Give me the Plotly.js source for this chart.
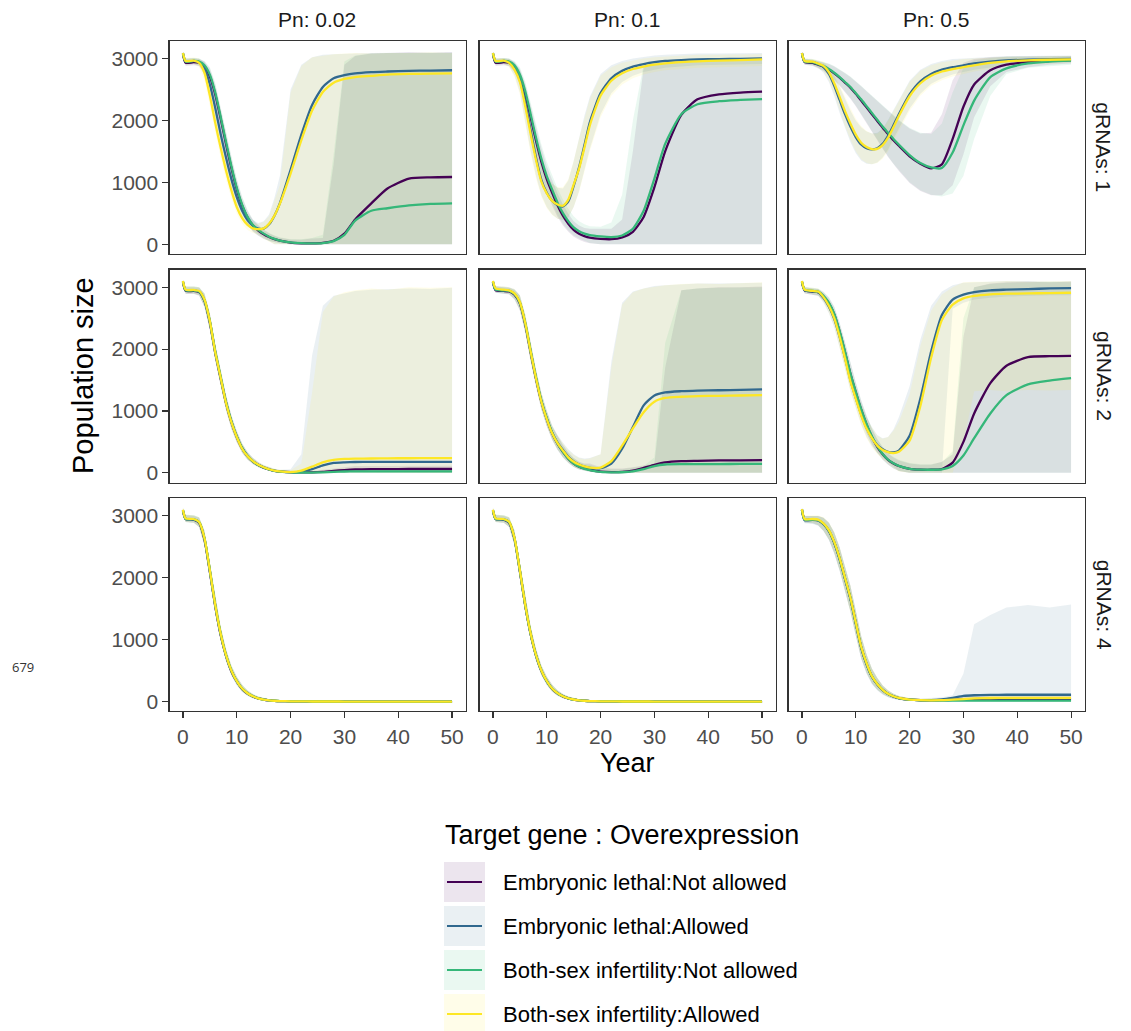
<!DOCTYPE html>
<html><head><meta charset="utf-8">
<script src="https://cdn.plot.ly/plotly-3.0.1.min.js"></script>
<style>html,body{margin:0;padding:0;background:#fff}#chart{width:1131px;height:1031px}</style>
</head><body><div id="chart"></div>
<script>
// ---------- data ----------
const years = [0,0.5,2,3,4,5,6,7,8,9,10,11,12,13,14,15,16,17,18,20,22,24,26,28,30,32,35,38,42,46,50];
const seriesNames = ["Embryonic lethal:Not allowed","Embryonic lethal:Allowed","Both-sex infertility:Not allowed","Both-sex infertility:Allowed"];
const seriesColors = ["#440154","#31688E","#35B779","#FDE725"];
const pnLabels = ["Pn: 0.02","Pn: 0.1","Pn: 0.5"];
const grnaLabels = ["gRNAs: 1","gRNAs: 2","gRNAs: 4"];
const xTicks = [0,10,20,30,40,50];
const yTicks = [0,1000,2000,3000];
const legendTitle = "Target gene : Overexpression";

// gRNAs 1, Pn 0.02
const g1_p002_EN    = [3070,2930,2940,2930,2870,2710,2420,2030,1620,1230,890,620,430,300,220,160,115,80,55,25,14,12,20,55,170,400,660,900,1060,1080,1085];
const g1_p002_EN_lo = [3040,2880,2890,2880,2780,2570,2250,1850,1440,1060,740,490,320,200,135,85,50,28,14,0,0,0,0,0,0,0,0,0,0,0,0];
const g1_p002_EN_hi = [3100,2990,3000,2990,2950,2840,2580,2210,1800,1400,1040,750,540,390,300,230,175,135,105,75,70,90,100,1300,2900,3040,3080,3090,3100,3090,3100];
const g1_p002_EA    = [3090,2950,2960,2940,2840,2580,2200,1780,1400,1050,760,540,390,300,250,250,320,460,660,1200,1770,2250,2540,2680,2730,2760,2780,2790,2800,2805,2810];
const g1_p002_EA_lo = [3060,2900,2910,2880,2730,2420,2030,1620,1250,910,640,440,300,220,170,110,50,0,0,0,0,0,0,0,0,0,0,0,0,0,0];
const g1_p002_EA_hi = [3110,3000,3010,3000,2940,2720,2350,1930,1540,1190,880,650,490,390,340,370,480,750,1100,2500,2900,3020,3060,3070,3080,3080,3090,3090,3100,3090,3100];
const g1_p002_BN    = [3080,2950,2960,2950,2890,2740,2450,2060,1650,1260,910,640,440,310,230,170,120,85,58,28,16,12,18,50,150,380,540,580,625,650,660];
const g1_p002_BN_lo = [3050,2900,2910,2900,2800,2600,2280,1880,1470,1090,760,510,330,210,140,90,55,30,15,0,0,0,0,0,0,0,0,0,0,0,0];
const g1_p002_BN_hi = [3110,3000,3010,3000,2960,2860,2610,2240,1830,1430,1060,770,550,400,310,240,180,140,110,80,80,100,150,1450,2950,3050,3080,3090,3090,3100,3090];
const g1_p002_BA    = [3090,2960,2965,2930,2770,2400,1960,1560,1190,870,600,420,310,255,242,255,330,460,650,1140,1680,2160,2460,2610,2670,2700,2720,2740,2750,2755,2760];
const g1_p002_BA_lo = [3060,2900,2910,2860,2650,2250,1800,1400,1040,740,490,330,230,180,150,100,40,0,0,0,0,0,0,0,0,0,0,0,0,0,0];
const g1_p002_BA_hi = [3110,3010,3020,3000,2890,2560,2130,1730,1350,1010,720,520,400,340,330,360,450,700,950,2450,2880,3020,3050,3070,3080,3090,3080,3090,3090,3100,3090];

// gRNAs 1, Pn 0.1
const g1_p01_EN    = [3070,2930,2940,2930,2860,2700,2420,2050,1670,1330,1050,830,630,460,330,230,170,130,105,85,80,110,200,440,920,1500,2090,2340,2420,2450,2465];
const g1_p01_EN_lo = [3040,2880,2890,2880,2780,2570,2250,1850,1460,1110,840,620,440,300,200,120,70,35,15,0,0,0,0,0,0,0,0,0,0,0,0];
const g1_p01_EN_hi = [3100,2990,3000,2990,2940,2830,2590,2250,1880,1550,1260,1040,820,640,490,370,300,260,250,250,250,400,1500,2850,2940,2960,2970,2990,3000,3000,3010];
const g1_p01_EA    = [3090,2950,2960,2940,2850,2660,2290,1840,1400,1040,830,700,630,610,690,940,1240,1600,1970,2440,2680,2800,2870,2910,2940,2960,2975,2985,2990,2995,3000];
const g1_p01_EA_lo = [3060,2900,2910,2870,2730,2460,2000,1510,1100,790,600,480,410,390,430,600,860,1180,1540,2100,2440,2620,2720,2780,2820,2850,2870,2890,2900,2900,2910];
const g1_p01_EA_hi = [3110,3000,3010,3000,2940,2810,2530,2130,1720,1360,1110,980,910,900,1030,1340,1710,2080,2380,2750,2890,2960,3000,3030,3050,3060,3070,3080,3080,3090,3090];
const g1_p01_BN    = [3080,2950,2960,2950,2890,2740,2470,2100,1720,1380,1100,880,670,500,370,270,210,170,145,125,115,140,250,540,1060,1620,2100,2260,2310,2330,2345];
const g1_p01_BN_lo = [3050,2900,2910,2900,2810,2610,2300,1900,1500,1160,880,660,470,330,220,140,90,50,20,0,0,0,0,0,0,0,0,0,0,0,0];
const g1_p01_BN_hi = [3110,3000,3010,3000,2960,2860,2630,2300,1940,1610,1330,1110,900,720,570,450,370,320,290,280,350,800,2000,2900,2950,2960,2980,2990,2990,3000,3000];
const g1_p01_BA    = [3090,2960,2965,2930,2820,2620,2230,1780,1360,1010,820,700,640,620,720,960,1220,1560,1920,2400,2640,2760,2830,2870,2900,2920,2940,2955,2965,2975,2985];
const g1_p01_BA_lo = [3060,2910,2910,2860,2700,2420,1950,1460,1060,760,580,470,410,400,440,600,840,1150,1500,2050,2400,2580,2680,2740,2780,2810,2830,2850,2860,2870,2880];
const g1_p01_BA_hi = [3110,3010,3010,2990,2920,2780,2480,2080,1680,1330,1100,980,920,920,1050,1350,1700,2050,2350,2720,2860,2930,2970,3000,3020,3030,3050,3060,3060,3070,3070];

// gRNAs 1, Pn 0.5
const g1_p05_EN    = [3080,2940,2930,2900,2870,2820,2760,2690,2610,2530,2430,2320,2210,2100,1990,1880,1780,1680,1590,1420,1300,1225,1290,1700,2220,2580,2810,2900,2940,2960,2975];
const g1_p05_EN_lo = [3050,2900,2880,2840,2800,2730,2650,2560,2460,2350,2230,2100,1960,1820,1680,1540,1410,1290,1180,990,860,790,790,950,1450,2050,2550,2780,2860,2900,2920];
const g1_p05_EN_hi = [3110,2990,2980,2960,2940,2910,2870,2820,2760,2700,2630,2550,2470,2390,2310,2230,2150,2070,2000,1870,1790,1800,2100,2650,2930,2990,3020,3030,3030,3040,3040];
const g1_p05_EA    = [3090,2950,2940,2910,2860,2750,2560,2330,2100,1900,1730,1610,1550,1530,1550,1620,1750,1920,2100,2420,2630,2750,2820,2860,2890,2920,2950,2970,2980,2990,2995];
const g1_p05_EA_lo = [3060,2900,2890,2850,2770,2620,2390,2120,1870,1650,1470,1350,1300,1290,1320,1400,1530,1700,1870,2190,2430,2590,2680,2740,2780,2820,2860,2890,2910,2930,2940];
const g1_p05_EA_hi = [3110,2990,2980,2960,2930,2860,2720,2540,2340,2160,2000,1890,1820,1790,1800,1870,2010,2170,2340,2640,2820,2910,2960,2990,3000,3010,3030,3040,3040,3050,3050];
const g1_p05_BN    = [3080,2950,2940,2910,2880,2830,2770,2700,2620,2540,2440,2340,2230,2120,2010,1900,1800,1700,1610,1440,1310,1240,1230,1480,1920,2320,2700,2840,2920,2950,2965];
const g1_p05_BN_lo = [3050,2910,2890,2850,2810,2740,2660,2570,2470,2360,2240,2110,1970,1830,1690,1550,1420,1300,1190,1000,870,800,770,820,1100,1700,2400,2750,2850,2880,2900];
const g1_p05_BN_hi = [3110,3000,2990,2970,2950,2920,2880,2830,2770,2710,2640,2560,2480,2400,2320,2240,2160,2080,2010,1880,1800,1780,1950,2450,2850,2970,3010,3030,3030,3040,3040];
const g1_p05_BA    = [3090,2960,2950,2920,2880,2780,2600,2380,2150,1950,1770,1640,1570,1535,1540,1600,1720,1890,2070,2390,2600,2720,2790,2830,2860,2890,2930,2955,2970,2980,2985];
const g1_p05_BA_lo = [3060,2910,2900,2860,2790,2650,2430,2170,1910,1690,1500,1370,1310,1290,1310,1380,1500,1660,1830,2150,2400,2560,2650,2710,2750,2790,2840,2880,2900,2920,2930];
const g1_p05_BA_hi = [3110,3000,2990,2970,2950,2880,2750,2570,2380,2200,2030,1910,1830,1790,1790,1860,1990,2150,2320,2620,2800,2890,2940,2970,2990,3000,3020,3030,3030,3040,3040];

// gRNAs 2, Pn 0.02
const g2_p002_EN    = [3080,2940,2940,2920,2780,2430,1940,1530,1130,820,580,395,270,185,125,85,54,33,20,10,8,8,15,30,45,55,60,60,62,62,62];
const g2_p002_EN_lo = [3050,2890,2890,2860,2680,2300,1810,1400,1010,710,490,320,210,140,90,58,34,19,10,0,0,0,0,0,0,0,0,0,0,0,0];
const g2_p002_EN_hi = [3110,3000,3000,2990,2890,2570,2070,1660,1250,920,670,470,330,240,170,120,85,60,45,30,25,30,50,80,100,110,110,110,115,115,115];
const g2_p002_EA    = [3090,2950,2950,2930,2790,2440,1950,1540,1140,830,590,400,275,190,130,88,56,34,21,11,20,60,120,160,170,175,176,177,178,178,178];
const g2_p002_EA_lo = [3060,2900,2900,2870,2690,2310,1820,1410,1020,720,500,330,220,145,95,60,35,20,10,0,0,0,0,0,0,0,0,0,0,0,0];
const g2_p002_EA_hi = [3120,3010,3010,3000,2900,2580,2080,1670,1260,930,680,480,340,245,175,125,90,65,50,60,300,1900,2700,2860,2900,2940,2960,2970,2980,2970,2990];
const g2_p002_BN    = [3090,2950,2950,2930,2790,2450,1960,1550,1140,830,585,400,272,186,126,86,54,33,20,9,5,5,8,15,22,25,25,25,25,25,25];
const g2_p002_BN_lo = [3060,2900,2900,2870,2690,2320,1830,1420,1020,720,500,330,215,142,92,58,34,19,10,0,0,0,0,0,0,0,0,0,0,0,0];
const g2_p002_BN_hi = [3120,3010,3010,3000,2900,2580,2090,1680,1260,930,670,470,330,235,165,118,82,58,42,25,20,20,25,35,45,50,50,50,50,50,50];
const g2_p002_BA    = [3100,2960,2955,2940,2800,2450,1950,1540,1130,820,580,390,270,190,130,90,58,35,22,12,35,100,170,210,225,230,232,235,236,237,238];
const g2_p002_BA_lo = [3060,2900,2900,2870,2690,2320,1820,1410,1020,720,500,320,210,145,95,60,36,20,10,0,0,0,0,0,0,0,0,0,0,0,0];
const g2_p002_BA_hi = [3120,3010,3010,3000,2900,2580,2080,1670,1250,920,670,470,330,240,170,125,90,65,50,40,150,1300,2600,2850,2920,2950,2980,2960,3000,2990,3000];

// gRNAs 2, Pn 0.1
const g2_p01_EN    = [3080,2950,2940,2930,2880,2740,2400,1950,1520,1150,870,640,470,340,230,150,100,70,50,20,12,15,35,80,130,170,190,195,200,203,205];
const g2_p01_EN_lo = [3050,2910,2890,2880,2800,2620,2260,1800,1380,1020,750,530,370,250,160,95,55,30,16,0,0,0,0,0,0,0,0,0,0,0,0];
const g2_p01_EN_hi = [3110,3010,3000,2990,2960,2860,2540,2090,1660,1280,990,750,590,450,330,240,180,150,150,90,70,70,90,120,150,1700,2950,2980,3000,3000,3010];
const g2_p01_EA    = [3090,2960,2950,2940,2890,2750,2410,1960,1530,1160,880,650,490,370,260,185,135,100,80,75,150,390,740,1090,1250,1300,1320,1330,1335,1340,1348];
const g2_p01_EA_lo = [3060,2910,2900,2890,2810,2640,2280,1820,1400,1030,760,540,380,260,170,100,60,35,20,0,0,0,0,0,0,0,0,0,0,0,0];
const g2_p01_EA_hi = [3120,3020,3010,3000,2970,2870,2560,2100,1670,1300,1010,770,610,490,380,300,250,230,240,300,1800,2750,2930,2980,3020,3030,3040,3060,3060,3070,3070];
const g2_p01_BN    = [3090,2960,2950,2940,2890,2750,2420,1970,1540,1160,880,650,475,340,230,150,98,65,45,15,8,10,25,60,110,135,140,140,142,144,145];
const g2_p01_BN_lo = [3060,2910,2900,2890,2810,2630,2280,1820,1400,1030,760,540,375,250,160,95,55,30,15,0,0,0,0,0,0,0,0,0,0,0,0];
const g2_p01_BN_hi = [3120,3010,3000,2990,2960,2870,2560,2100,1670,1290,1000,760,590,450,330,240,175,140,130,80,60,60,80,110,250,2100,2950,2980,2990,3000,3000];
const g2_p01_BA    = [3100,2980,2960,2950,2900,2760,2420,1960,1530,1150,870,640,480,360,250,180,135,105,85,85,190,440,720,980,1150,1210,1230,1240,1245,1250,1256];
const g2_p01_BA_lo = [3060,2930,2910,2890,2820,2640,2280,1820,1400,1030,760,540,380,260,170,100,60,35,20,0,0,0,0,0,0,0,0,0,0,0,0];
const g2_p01_BA_hi = [3120,3020,3010,3000,2970,2870,2560,2100,1670,1290,1000,760,600,480,370,290,240,220,230,300,1700,2720,2920,2980,3010,3030,3050,3060,3050,3070,3080];

// gRNAs 2, Pn 0.5
const g2_p05_EN    = [3080,2950,2930,2920,2850,2740,2560,2280,1950,1600,1300,1020,780,580,420,300,210,150,110,65,52,50,62,165,500,960,1450,1730,1870,1885,1890];
const g2_p05_EN_lo = [3050,2900,2880,2860,2780,2640,2430,2130,1790,1440,1140,870,640,460,320,210,130,70,30,0,0,0,0,0,0,0,0,0,0,0,0];
const g2_p05_EN_hi = [3110,3000,2980,2970,2920,2830,2680,2420,2110,1760,1460,1170,920,710,540,410,310,250,200,150,130,130,180,300,2200,3000,3060,3080,3090,3080,3090];
const g2_p05_EA    = [3090,2950,2930,2920,2830,2690,2490,2200,1860,1500,1210,950,730,570,450,380,340,330,360,600,1200,1960,2550,2800,2880,2920,2950,2960,2970,2980,2985];
const g2_p05_EA_lo = [3060,2900,2880,2860,2750,2580,2350,2040,1690,1330,1050,790,580,430,320,240,170,100,30,0,0,0,0,2650,2750,2800,2830,2850,2860,2870,2870];
const g2_p05_EA_hi = [3120,3000,2980,2970,2900,2790,2620,2350,2030,1680,1390,1120,900,740,610,560,580,700,900,1400,2150,2700,2930,3030,3070,3080,3090,3100,3100,3090,3100];
const g2_p05_BN    = [3090,2960,2940,2930,2860,2750,2570,2290,1960,1610,1310,1030,790,590,430,305,215,155,112,66,52,50,55,110,280,560,960,1256,1430,1490,1530];
const g2_p05_BN_lo = [3060,2910,2890,2870,2790,2650,2440,2140,1800,1450,1150,880,650,470,330,215,135,75,32,0,0,0,0,0,0,0,0,0,0,0,0];
const g2_p05_BN_hi = [3120,3000,2990,2980,2930,2840,2690,2430,2120,1770,1470,1180,930,720,550,420,320,260,210,160,140,140,170,350,2500,3000,3050,3070,3080,3090,3080];
const g2_p05_BA    = [3100,2960,2940,2930,2840,2700,2500,2200,1850,1480,1200,930,715,560,440,370,335,320,340,520,1080,1860,2470,2720,2820,2860,2885,2895,2900,2905,2910];
const g2_p05_BA_lo = [3060,2910,2890,2870,2760,2590,2360,2040,1680,1310,1030,770,560,410,300,220,150,80,20,0,0,0,0,0,500,1320,1340,1320,1340,1330,1340];
const g2_p05_BA_hi = [3120,3010,2990,2980,2910,2800,2630,2350,2020,1660,1380,1110,890,730,600,550,580,680,820,1270,2050,2620,2880,3000,3080,3090,3090,3100,3090,3100,3100];

// gRNAs 4, Pn 0.02
const g4_p002_EN    = [3080,2950,2940,2890,2620,2100,1540,1080,740,490,325,205,130,82,50,31,19,12,8,4,2,1,1,0,0,0,0,0,0,0,0];
const g4_p002_EN_lo = [3050,2900,2890,2820,2510,1970,1420,980,650,420,265,158,92,52,28,14,7,3,1,0,0,0,0,0,0,0,0,0,0,0,0];
const g4_p002_EN_hi = [3120,3010,3000,2970,2750,2250,1680,1200,840,570,395,265,175,118,78,54,37,26,19,11,7,5,4,4,3,3,3,3,3,3,3];
const g4_p002_EA    = [3090,2955,2945,2895,2630,2110,1550,1090,745,495,328,208,132,84,51,32,20,13,8,4,2,1,1,1,0,0,0,0,0,0,0];
const g4_p002_EA_lo = [3050,2900,2890,2820,2520,1980,1430,990,655,425,268,160,94,54,29,15,8,4,2,0,0,0,0,0,0,0,0,0,0,0,0];
const g4_p002_EA_hi = [3130,3020,3010,2980,2760,2260,1690,1210,850,580,400,270,180,120,80,55,38,27,20,12,8,6,5,4,4,4,4,4,4,4,4];
const g4_p002_BN    = [3090,2950,2945,2900,2640,2120,1560,1100,750,500,330,210,135,85,52,32,20,13,8,4,2,1,1,0,0,0,0,0,0,0,0];
const g4_p002_BN_lo = [3050,2900,2890,2820,2530,1990,1440,1000,660,430,270,162,96,55,30,15,8,4,2,0,0,0,0,0,0,0,0,0,0,0,0];
const g4_p002_BN_hi = [3130,3020,3010,2980,2770,2270,1700,1220,855,585,405,272,182,122,81,56,38,27,20,12,8,6,5,4,4,4,4,4,4,4,4];
const g4_p002_BA    = [3100,2960,2950,2900,2640,2120,1560,1100,750,500,330,210,135,85,52,32,20,13,8,4,2,1,1,1,0,0,0,0,0,0,0];
const g4_p002_BA_lo = [3060,2900,2890,2820,2530,1990,1440,1000,660,430,270,162,96,55,30,15,8,4,2,0,0,0,0,0,0,0,0,0,0,0,0];
const g4_p002_BA_hi = [3140,3020,3010,2980,2770,2270,1700,1220,855,585,405,272,182,122,81,56,38,27,20,12,8,6,5,4,4,4,4,4,4,4,4];

// gRNAs 4, Pn 0.1
const g4_p01_EN    = [3080,2950,2940,2890,2630,2110,1550,1090,745,495,328,208,132,84,51,32,20,13,8,4,2,1,1,0,0,0,0,0,0,0,0];
const g4_p01_EN_lo = [3050,2900,2890,2820,2520,1980,1430,990,655,425,268,160,94,54,29,15,8,4,2,0,0,0,0,0,0,0,0,0,0,0,0];
const g4_p01_EN_hi = [3120,3010,3000,2970,2760,2260,1690,1210,850,580,400,270,180,120,80,55,38,27,20,12,8,6,5,4,4,4,4,4,4,4,4];
const g4_p01_EA    = [3090,2955,2945,2895,2635,2115,1555,1095,748,498,330,210,134,85,52,32,20,13,8,4,2,1,1,1,0,0,0,0,0,0,0];
const g4_p01_EA_lo = [3050,2900,2890,2820,2525,1985,1435,995,658,428,270,162,95,55,30,15,8,4,2,0,0,0,0,0,0,0,0,0,0,0,0];
const g4_p01_EA_hi = [3130,3020,3010,2980,2765,2265,1695,1215,852,582,402,272,182,121,81,56,38,27,20,12,8,6,5,4,4,4,4,4,4,4,4];
const g4_p01_BN    = [3090,2950,2945,2900,2640,2120,1560,1100,750,500,330,210,135,85,52,32,20,13,8,4,2,1,1,0,0,0,0,0,0,0,0];
const g4_p01_BN_lo = [3050,2900,2890,2820,2530,1990,1440,1000,660,430,270,162,96,55,30,15,8,4,2,0,0,0,0,0,0,0,0,0,0,0,0];
const g4_p01_BN_hi = [3130,3020,3010,2980,2770,2270,1700,1220,855,585,405,272,182,122,81,56,38,27,20,12,8,6,5,4,4,4,4,4,4,4,4];
const g4_p01_BA    = [3100,2960,2950,2905,2645,2125,1565,1105,752,502,332,211,136,86,53,33,20,13,8,4,2,1,1,1,0,0,0,0,0,0,0];
const g4_p01_BA_lo = [3060,2900,2890,2825,2535,1995,1445,1005,662,432,272,163,97,56,31,15,8,4,2,0,0,0,0,0,0,0,0,0,0,0,0];
const g4_p01_BA_hi = [3140,3020,3010,2985,2775,2275,1705,1225,858,588,408,274,184,123,82,57,39,28,20,12,8,6,5,4,4,4,4,4,4,4,4];

// gRNAs 4, Pn 0.5
const g4_p05_EN    = [3100,2940,2940,2930,2870,2760,2570,2310,1990,1670,1270,880,610,405,280,188,124,84,57,31,21,20,22,28,35,40,42,45,45,45,45];
const g4_p05_EN_lo = [3060,2890,2880,2850,2760,2620,2400,2120,1790,1460,1070,700,460,290,190,120,75,45,28,10,0,0,0,0,0,0,0,0,0,0,0];
const g4_p05_EN_hi = [3130,3000,3000,3000,2970,2890,2730,2490,2180,1870,1470,1060,760,530,380,260,180,125,90,55,40,40,50,60,80,90,95,100,100,100,100];
const g4_p05_EA    = [3100,2930,2935,2925,2865,2755,2565,2300,1985,1665,1265,875,605,400,278,186,122,82,56,31,22,22,35,60,90,102,108,110,110,110,110];
const g4_p05_EA_lo = [3060,2880,2870,2840,2750,2610,2390,2110,1780,1450,1060,690,450,280,180,110,70,40,25,8,0,0,0,0,0,0,0,0,0,0,0];
const g4_p05_EA_hi = [3130,3000,3000,3000,2970,2890,2730,2490,2180,1870,1470,1060,760,530,380,260,180,125,90,55,50,60,70,100,450,1250,1400,1520,1560,1520,1570];
const g4_p05_BN    = [3100,2940,2940,2930,2875,2765,2575,2310,1995,1675,1275,885,615,410,283,190,125,85,57,30,20,18,16,15,15,15,15,15,15,15,15];
const g4_p05_BN_lo = [3060,2890,2880,2850,2760,2620,2400,2120,1790,1460,1070,700,460,290,190,120,75,45,28,10,0,0,0,0,0,0,0,0,0,0,0];
const g4_p05_BN_hi = [3130,3000,3000,3000,2970,2890,2730,2490,2180,1870,1470,1060,760,530,380,260,180,125,90,55,40,35,32,30,30,30,30,30,30,30,30];
const g4_p05_BA    = [3110,2950,2950,2940,2880,2770,2580,2320,2000,1680,1280,890,620,410,285,190,125,85,58,32,22,20,22,30,40,50,57,60,60,60,60];
const g4_p05_BA_lo = [3070,2900,2890,2860,2770,2630,2410,2130,1800,1470,1080,710,470,300,195,125,78,48,30,12,0,0,0,0,0,0,0,0,0,0,0];
const g4_p05_BA_hi = [3140,3010,3010,3010,2980,2900,2740,2500,2190,1880,1480,1070,770,540,390,265,185,130,95,60,45,45,55,70,90,110,120,120,125,125,125];

// ---------- assembly ----------
const panels = [
  {row:0,col:0,mean:[g1_p002_EN,g1_p002_EA,g1_p002_BN,g1_p002_BA],lo:[g1_p002_EN_lo,g1_p002_EA_lo,g1_p002_BN_lo,g1_p002_BA_lo],hi:[g1_p002_EN_hi,g1_p002_EA_hi,g1_p002_BN_hi,g1_p002_BA_hi]},
  {row:0,col:1,mean:[g1_p01_EN,g1_p01_EA,g1_p01_BN,g1_p01_BA],lo:[g1_p01_EN_lo,g1_p01_EA_lo,g1_p01_BN_lo,g1_p01_BA_lo],hi:[g1_p01_EN_hi,g1_p01_EA_hi,g1_p01_BN_hi,g1_p01_BA_hi]},
  {row:0,col:2,mean:[g1_p05_EN,g1_p05_EA,g1_p05_BN,g1_p05_BA],lo:[g1_p05_EN_lo,g1_p05_EA_lo,g1_p05_BN_lo,g1_p05_BA_lo],hi:[g1_p05_EN_hi,g1_p05_EA_hi,g1_p05_BN_hi,g1_p05_BA_hi]},
  {row:1,col:0,mean:[g2_p002_EN,g2_p002_EA,g2_p002_BN,g2_p002_BA],lo:[g2_p002_EN_lo,g2_p002_EA_lo,g2_p002_BN_lo,g2_p002_BA_lo],hi:[g2_p002_EN_hi,g2_p002_EA_hi,g2_p002_BN_hi,g2_p002_BA_hi]},
  {row:1,col:1,mean:[g2_p01_EN,g2_p01_EA,g2_p01_BN,g2_p01_BA],lo:[g2_p01_EN_lo,g2_p01_EA_lo,g2_p01_BN_lo,g2_p01_BA_lo],hi:[g2_p01_EN_hi,g2_p01_EA_hi,g2_p01_BN_hi,g2_p01_BA_hi]},
  {row:1,col:2,mean:[g2_p05_EN,g2_p05_EA,g2_p05_BN,g2_p05_BA],lo:[g2_p05_EN_lo,g2_p05_EA_lo,g2_p05_BN_lo,g2_p05_BA_lo],hi:[g2_p05_EN_hi,g2_p05_EA_hi,g2_p05_BN_hi,g2_p05_BA_hi]},
  {row:2,col:0,mean:[g4_p002_EN,g4_p002_EA,g4_p002_BN,g4_p002_BA],lo:[g4_p002_EN_lo,g4_p002_EA_lo,g4_p002_BN_lo,g4_p002_BA_lo],hi:[g4_p002_EN_hi,g4_p002_EA_hi,g4_p002_BN_hi,g4_p002_BA_hi]},
  {row:2,col:1,mean:[g4_p01_EN,g4_p01_EA,g4_p01_BN,g4_p01_BA],lo:[g4_p01_EN_lo,g4_p01_EA_lo,g4_p01_BN_lo,g4_p01_BA_lo],hi:[g4_p01_EN_hi,g4_p01_EA_hi,g4_p01_BN_hi,g4_p01_BA_hi]},
  {row:2,col:2,mean:[g4_p05_EN,g4_p05_EA,g4_p05_BN,g4_p05_BA],lo:[g4_p05_EN_lo,g4_p05_EA_lo,g4_p05_BN_lo,g4_p05_BA_lo],hi:[g4_p05_EN_hi,g4_p05_EA_hi,g4_p05_BN_hi,g4_p05_BA_hi]}
];
panels.forEach((p,i)=>['mean','lo','hi'].forEach(k=>p[k].forEach((a,s)=>{
  if(a.length!==years.length) throw new Error('panel '+i+' '+k+' series '+s+' length '+a.length);
})));

const W=1131, H=1031;
const FONT="Liberation Sans, Arial, Helvetica, sans-serif";
const colX=[[169.5,465.5],[479.5,775.5],[788.5,1084.5]];
const rowY=[[40.8,253.8],[269.5,482.5],[498.2,711.2]];
const px=x=>x/W, py=y=>1-y/H;
function rgba(hex,a){const n=parseInt(hex.slice(1),16);return `rgba(${(n>>16)&255},${(n>>8)&255},${n&255},${a})`;}

const traces=[]; const layout={width:W,height:H,margin:{l:0,r:0,t:0,b:0},paper_bgcolor:'#fff',plot_bgcolor:'#fff',showlegend:false,font:{family:FONT},annotations:[],shapes:[]};
const rev=a=>a.slice().reverse();
panels.forEach((p,i)=>{
  const k=i+1, sx=(k===1?'':k);
  const xa='x'+sx, ya='y'+sx;
  for(let s=0;s<4;s++){
    traces.push({type:'scatter',mode:'lines',x:years.concat(rev(years)),y:p.hi[s].concat(rev(p.lo[s])),fill:'toself',fillcolor:rgba(seriesColors[s],0.1),line:{width:0},xaxis:xa,yaxis:ya,hoverinfo:'skip',showlegend:false});
  }
  for(let s=0;s<4;s++){
    traces.push({type:'scatter',mode:'lines',x:years,y:p.mean[s],line:{color:seriesColors[s],width:2.3,shape:'spline',smoothing:0.6},xaxis:xa,yaxis:ya,name:seriesNames[s],showlegend:false});
  }
  const bottom=p.row===2, left=p.col===0;
  layout['xaxis'+sx]={domain:[px(colX[p.col][0]),px(colX[p.col][1])],range:[-2.5,52.5],anchor:ya,showline:true,mirror:true,linecolor:'#333333',linewidth:1.1,showgrid:false,zeroline:false,tickmode:'array',tickvals:xTicks,ticks:bottom?'outside':'',ticklen:6,tickwidth:1.1,tickcolor:'#333333',showticklabels:bottom,tickfont:{family:FONT,size:21,color:'#4d4d4d'},fixedrange:true};
  layout['yaxis'+sx]={domain:[py(rowY[p.row][1]),py(rowY[p.row][0])],range:[-156,3286],anchor:xa,showline:true,mirror:true,linecolor:'#333333',linewidth:1.1,showgrid:false,zeroline:false,tickmode:'array',tickvals:yTicks,ticks:left?'outside':'',ticklen:6,tickwidth:1.1,tickcolor:'#333333',showticklabels:left,tickfont:{family:FONT,size:21,color:'#4d4d4d'},fixedrange:true};
});

function ann(text,x,y,o){layout.annotations.push(Object.assign({text:text,x:px(x),y:py(y),xref:'paper',yref:'paper',showarrow:false,xanchor:'center',yanchor:'middle',font:{family:FONT,size:21,color:'#1a1a1a'}},o||{}));}
pnLabels.forEach((t,c)=>ann(t,(colX[c][0]+colX[c][1])/2,19.5));
grnaLabels.forEach((t,r)=>ann(t,1104,(rowY[r][0]+rowY[r][1])/2,{textangle:90}));
ann("Population size",83,(rowY[0][0]+rowY[2][1])/2,{textangle:-90,font:{family:FONT,size:29,color:'#000'}});
ann("Year",(colX[0][0]+colX[2][1])/2,762.5,{font:{family:FONT,size:27,color:'#000'}});
ann("679",23,667,{font:{family:"Open Sans, Noto Sans, sans-serif",size:13,color:'#333'}});
ann(legendTitle,443,835,{xanchor:'left',font:{family:FONT,size:27,color:'#000'}});
const keyTop=[862,906,950,994];
seriesNames.forEach((n,s)=>{
  const t=keyTop[s], c=t+20;
  layout.shapes.push({type:'rect',xref:'paper',yref:'paper',x0:px(444),x1:px(485),y0:py(t+40),y1:py(t),fillcolor:rgba(seriesColors[s],0.1),line:{width:0}});
  layout.shapes.push({type:'line',xref:'paper',yref:'paper',x0:px(447),x1:px(482),y0:py(c),y1:py(c),line:{color:seriesColors[s],width:2.2}});
  ann(n,501,c,{xanchor:'left',font:{family:FONT,size:22,color:'#000'}});
});

Plotly.newPlot('chart',traces,layout,{staticPlot:true,displayModeBar:false});
</script>
</body></html>
